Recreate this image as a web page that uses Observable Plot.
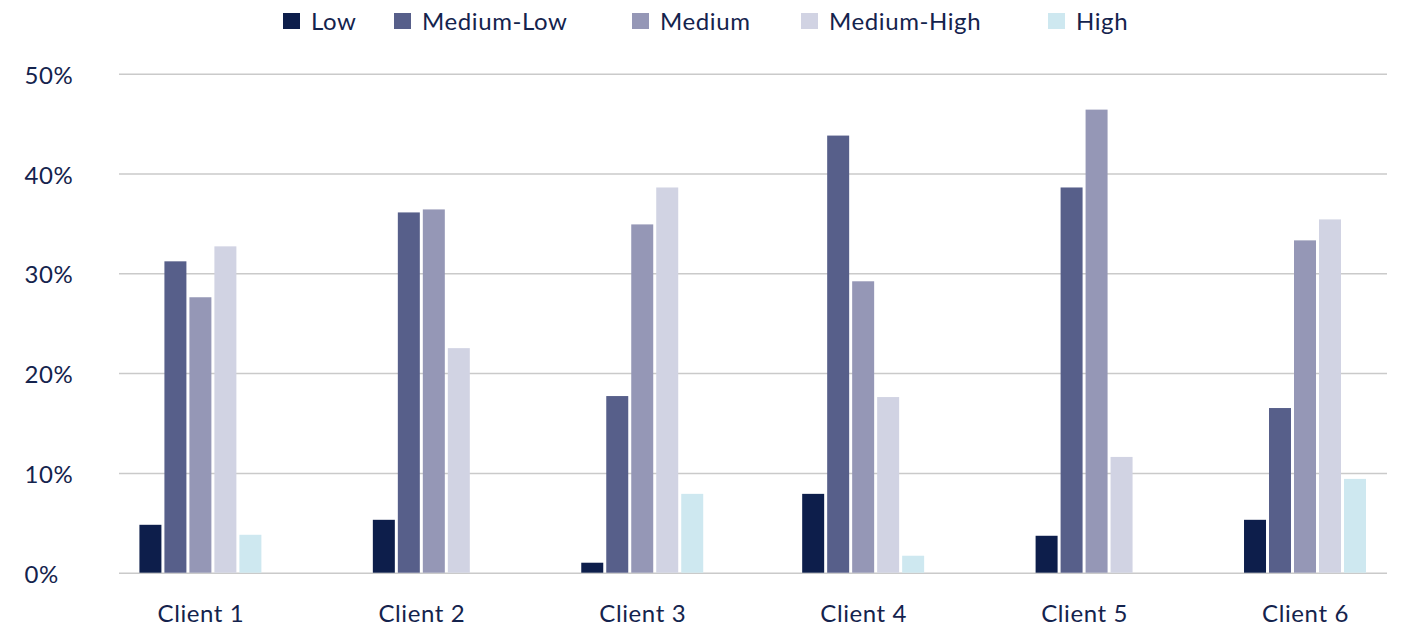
<!DOCTYPE html>
<html>
<head>
<meta charset="utf-8">
<script src="https://cdn.jsdelivr.net/npm/d3@7"></script>
<script src="https://cdn.jsdelivr.net/npm/@observablehq/plot@0.6"></script>
<style>
  body { margin: 0; background: #fff; font-family: Lato, sans-serif; color: #14234d; }
  #legend { position: relative; width: 1404px; height: 42px; }
  .item { position: absolute; top: 9px; height: 24px; display: flex; align-items: center;
          font-size: 24px; line-height: 24px; letter-spacing: 0.6px; white-space: nowrap; }
  .swatch { width: 17px; height: 16px; margin-right: 11px; flex: none; }
  #chart svg text { letter-spacing: 0.6px; }
</style>
</head>
<body>
<div id="legend"></div>
<div id="chart"></div>
<script>
// Share of each client's book by risk level (%)
const clients = ["Client 1", "Client 2", "Client 3", "Client 4", "Client 5", "Client 6"];
const levels = ["Low", "Medium-Low", "Medium", "Medium-High", "High"];
const low        = [4.8, 5.3, 1.0, 7.9, 3.7, 5.3];
const mediumLow  = [31.2, 36.1, 17.7, 43.8, 38.6, 16.5];
const medium     = [27.6, 36.4, 34.9, 29.2, 46.4, 33.3];
const mediumHigh = [32.7, 22.5, 38.6, 17.6, 11.6, 35.4];
const high       = [3.8, null, 7.9, 1.7, null, 9.4];
const yTicks = [0, 10, 20, 30, 40, 50];

const palette = ["#0d1e4b", "#575f8a", "#9597b6", "#d1d3e3", "#cee8f0"];
const legendLeft = [283, 394, 632, 801, 1048];

// x is measured in bar slots; each client group is groupSlots wide and the
// bars that are present in a group are centred on the group's middle.
const groupSlots = 8.84;
const series = [low, mediumLow, medium, mediumHigh, high];
const centers = clients.map((c, i) => i * groupSlots);
const rows = [];
clients.forEach((client, i) => {
  const present = levels
    .map((level, k) => ({client, level, value: series[k][i]}))
    .filter(d => d.value != null);
  present.forEach((d, j) => {
    const start = centers[i] + j - present.length / 2;
    rows.push({...d, x1: start, x2: start + 1});
  });
});

// Legend
const legend = document.getElementById("legend");
levels.forEach((level, k) => {
  const item = document.createElement("div");
  item.className = "item";
  item.style.left = legendLeft[k] + "px";
  const sw = document.createElement("span");
  sw.className = "swatch";
  sw.style.background = palette[k];
  item.appendChild(sw);
  item.appendChild(document.createTextNode(level));
  legend.appendChild(item);
});

const chart = Plot.plot({
  width: 1404,
  height: 588,
  marginTop: 31.7,
  marginBottom: 57.3,
  marginLeft: 119,
  marginRight: 17,
  style: {fontFamily: "Lato, sans-serif", fontSize: "24px", color: "#14234d", background: "#fff"},
  x: {domain: [centers[0], centers[centers.length - 1]], range: [200.4, 1305], axis: null},
  y: {domain: [0, 50], axis: null},
  color: {domain: levels, range: palette},
  marks: [
    Plot.ruleY(yTicks, {y: d => d, stroke: "#cacaca", strokeWidth: 1.5}),
    Plot.text(yTicks, {
      y: d => d, text: d => `${d}%`, frameAnchor: "left", textAnchor: "start",
      dx: -95, dy: 2, fill: "#14234d", fontSize: 24
    }),
    Plot.rectY(rows, {
      x1: "x1", x2: "x2", y1: 0, y2: "value",
      fill: "level", insetLeft: 1.5, insetRight: 1.5
    }),
    Plot.axisX({
      ticks: centers, tickFormat: (d, i) => clients[i],
      anchor: "bottom", tickSize: 0, tickPadding: 31.5, fontSize: 24, label: null, fill: "#14234d"
    })
  ]
});
document.getElementById("chart").appendChild(chart);
</script>
</body>
</html>
